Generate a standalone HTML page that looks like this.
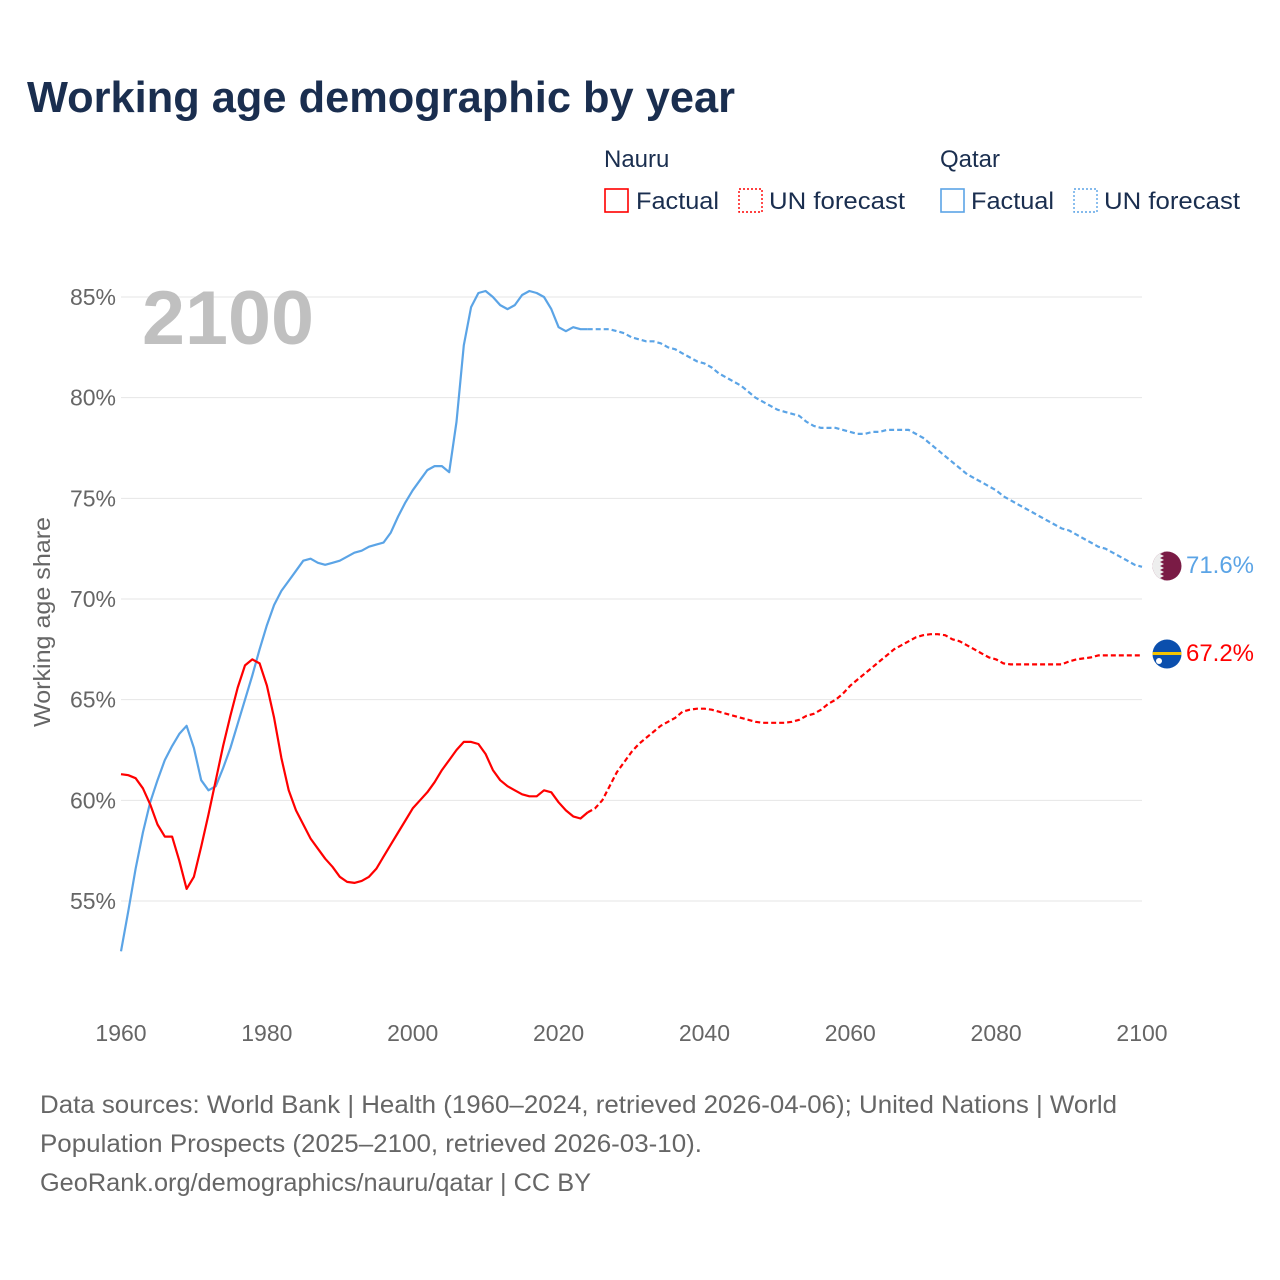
<!DOCTYPE html>
<html><head><meta charset="utf-8"><style>
body{margin:0;background:#fff;font-family:"Liberation Sans",sans-serif;}
</style></head><body>
<svg id="chart" width="1280" height="1280" xmlns="http://www.w3.org/2000/svg" style="display:block">
<rect width="1280" height="1280" fill="#fff"/>
<text x="27" y="112" font-size="44" font-weight="bold" fill="#1a2e4f" textLength="708" lengthAdjust="spacingAndGlyphs">Working age demographic by year</text>
<g font-size="24" fill="#1a2e4f">
<text x="604" y="167">Nauru</text>
<text x="940" y="167">Qatar</text>
<g><rect x="605" y="189" width="23" height="23" fill="none" stroke="#f00" stroke-width="1.6"/><text x="636" y="209" textLength="83" lengthAdjust="spacingAndGlyphs">Factual</text></g>
<g><rect x="739" y="189" width="23" height="23" fill="none" stroke="#f00" stroke-width="1.4" stroke-dasharray="2,2"/><text x="769" y="209" textLength="136" lengthAdjust="spacingAndGlyphs">UN forecast</text></g>
<g><rect x="941" y="189" width="23" height="23" fill="none" stroke="#5ba4e6" stroke-width="1.6"/><text x="971" y="209" textLength="83" lengthAdjust="spacingAndGlyphs">Factual</text></g>
<g><rect x="1074" y="189" width="23" height="23" fill="none" stroke="#5ba4e6" stroke-width="1.4" stroke-dasharray="2,2"/><text x="1104" y="209" textLength="136" lengthAdjust="spacingAndGlyphs">UN forecast</text></g>
</g>
<g id="grid"></g>
<g id="yticks" font-size="23" fill="#666" text-anchor="end"></g>
<g id="xticks" font-size="23" fill="#666" text-anchor="middle"></g>
<text transform="translate(50,622) rotate(-90)" font-size="23" fill="#666" text-anchor="middle" textLength="210" lengthAdjust="spacingAndGlyphs">Working age share</text>
<text x="142" y="344" font-size="76" font-weight="bold" fill="#c0c0c0" textLength="172" lengthAdjust="spacingAndGlyphs">2100</text>
<g id="series"></g>
<g>
<clipPath id="cq"><circle cx="1167" cy="566" r="14.5"/></clipPath>
<g clip-path="url(#cq)"><rect x="1150" y="550" width="34" height="32" fill="#7a1b45"/>
<polygon points="1150,550 1160,550 1164,552 1160,554 1164,556 1160,558 1164,560 1160,562 1164,564 1160,566 1164,568 1160,570 1164,572 1160,574 1164,576 1160,578 1164,580 1160,582 1150,582" fill="#eee"/></g></g>
<g>
<clipPath id="cn"><circle cx="1167" cy="654" r="14.5"/></clipPath>
<g clip-path="url(#cn)"><rect x="1150" y="638" width="34" height="32" fill="#0b4fad"/><rect x="1150" y="652" width="34" height="3" fill="#f5c400"/><circle cx="1159" cy="661" r="3" fill="#fff"/></g></g>
<text x="1186" y="573" font-size="24" fill="#5ba4e6" textLength="68" lengthAdjust="spacingAndGlyphs">71.6%</text>
<text x="1186" y="661" font-size="24" fill="#f00" textLength="68" lengthAdjust="spacingAndGlyphs">67.2%</text>
<g font-size="25" fill="#666">
<text x="40" y="1113" textLength="1077" lengthAdjust="spacingAndGlyphs">Data sources: World Bank | Health (1960–2024, retrieved 2026-04-06); United Nations | World</text>
<text x="40" y="1152" textLength="662" lengthAdjust="spacingAndGlyphs">Population Prospects (2025–2100, retrieved 2026-03-10).</text>
<text x="40" y="1191" textLength="551" lengthAdjust="spacingAndGlyphs">GeoRank.org/demographics/nauru/qatar | CC BY</text>
</g>
</svg>
<script>
const yTicks=[55,60,65,70,75,80,85];
const xTicks=[1960,1980,2000,2020,2040,2060,2080,2100];
const qatarFactual=[52.5,54.5,56.6,58.4,59.9,61.0,62.0,62.7,63.3,63.7,62.6,61.0,60.5,60.7,61.6,62.6,63.8,65.0,66.2,67.5,68.7,69.7,70.4,70.9,71.4,71.9,72.0,71.8,71.7,71.8,71.9,72.1,72.3,72.4,72.6,72.7,72.8,73.3,74.1,74.8,75.4,75.9,76.4,76.6,76.6,76.3,78.8,82.6,84.5,85.2,85.3,85.0,84.6,84.4,84.6,85.1,85.3,85.2,85.0,84.4,83.5,83.3,83.5,83.4,83.4];
const qatarForecast=[83.4,83.4,83.4,83.4,83.3,83.2,83.0,82.9,82.8,82.8,82.7,82.5,82.4,82.2,82.0,81.8,81.7,81.5,81.2,81.0,80.8,80.6,80.3,80.0,79.8,79.6,79.4,79.3,79.2,79.1,78.8,78.6,78.5,78.5,78.5,78.4,78.3,78.2,78.2,78.3,78.3,78.4,78.4,78.4,78.4,78.2,78.0,77.7,77.4,77.1,76.8,76.5,76.2,76.0,75.8,75.6,75.4,75.1,74.9,74.7,74.5,74.3,74.1,73.9,73.7,73.5,73.4,73.2,73.0,72.8,72.6,72.5,72.3,72.1,71.9,71.7,71.6];
const nauruFactual=[61.3,61.25,61.1,60.6,59.8,58.8,58.2,58.2,57.0,55.6,56.2,57.7,59.3,61.0,62.7,64.2,65.6,66.7,67.0,66.8,65.7,64.1,62.1,60.5,59.5,58.8,58.1,57.6,57.1,56.7,56.2,55.95,55.9,56.0,56.2,56.6,57.2,57.8,58.4,59.0,59.6,60.0,60.4,60.9,61.5,62.0,62.5,62.9,62.9,62.8,62.3,61.5,61.0,60.7,60.5,60.3,60.2,60.2,60.5,60.4,59.9,59.5,59.2,59.1,59.4];
const nauruForecast=[59.4,59.6,60.0,60.7,61.4,61.9,62.4,62.8,63.1,63.4,63.7,63.9,64.1,64.4,64.5,64.55,64.55,64.5,64.4,64.3,64.2,64.1,64.0,63.9,63.85,63.85,63.85,63.85,63.9,64.0,64.2,64.3,64.5,64.8,65.0,65.3,65.7,66.0,66.3,66.6,66.9,67.2,67.5,67.7,67.9,68.1,68.2,68.25,68.25,68.2,68.0,67.9,67.7,67.5,67.3,67.1,67.0,66.8,66.75,66.75,66.75,66.75,66.75,66.75,66.75,66.75,66.9,67.0,67.05,67.1,67.2,67.2,67.2,67.2,67.2,67.2,67.2];
const NS='http://www.w3.org/2000/svg';
function xs(yr){return 121+(yr-1960)*(1142-121)/140;}
function ys(v){return 297+(85-v)*(901-297)/30;}
const grid=document.getElementById('grid'),yt=document.getElementById('yticks'),xt=document.getElementById('xticks'),ser=document.getElementById('series');
yTicks.forEach(v=>{
 const l=document.createElementNS(NS,'line');
 
 
 l.setAttribute('x1',121);l.setAttribute('x2',1142);l.setAttribute('y1',ys(v));l.setAttribute('y2',ys(v));
 l.setAttribute('stroke','#e6e6e6');l.setAttribute('stroke-width','1');grid.appendChild(l);
 const t=document.createElementNS(NS,'text');
 
 
 t.setAttribute('x',116);t.setAttribute('y',ys(v)+8);t.textContent=v+'%';yt.appendChild(t);
});
xTicks.forEach(yr=>{
 const t=document.createElementNS(NS,'text');
 
 
 t.setAttribute('x',xs(yr));t.setAttribute('y',1041);t.textContent=yr;xt.appendChild(t);
});
function line(arr,start,color,dash,name){
 const p=document.createElementNS(NS,'polyline');
 
 
 p.setAttribute('points',arr.map((v,i)=>xs(start+i).toFixed(1)+','+ys(v).toFixed(1)).join(' '));
 p.setAttribute('fill','none');p.setAttribute('stroke',color);p.setAttribute('stroke-width','2.2');
 p.setAttribute('stroke-linejoin','round');
 if(dash)p.setAttribute('stroke-dasharray',dash);
 ser.appendChild(p);
}
line(qatarFactual,1960,'#5ba4e6',null,'qatar-factual-line');
line(qatarForecast,2024,'#5ba4e6','5,3','qatar-forecast-line');
line(nauruFactual,1960,'#f00',null,'nauru-factual-line');
line(nauruForecast,2024,'#f00','5,3','nauru-forecast-line');
</script>
</body></html>
